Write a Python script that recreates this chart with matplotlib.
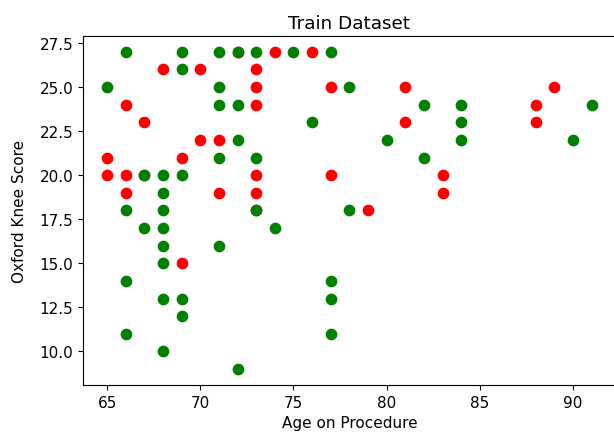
import numpy as np
from matplotlib import pyplot as plt

plt.rcParams.update({'font.size': 11, 'axes.titlesize': 13.2})

# age / score pairs
red_age = [65, 65, 66, 66, 66, 67, 67, 68, 69, 69, 70, 70, 71, 71, 72, 73, 73, 73, 73,
           73, 73, 74, 76, 77, 77, 79, 81, 81, 83, 83, 88, 88, 89]
red_score = [21, 20, 24, 20, 19, 23, 20, 26, 21, 15, 26, 22, 22, 19, 27, 26, 25, 24, 20,
             19, 18, 27, 27, 25, 20, 18, 25, 23, 20, 19, 24, 23, 25]

green_age = [65, 66, 66, 66, 66, 67, 67, 68, 68, 68, 68, 68, 68, 68, 68, 69, 69, 69, 69,
             69, 71, 71, 71, 71, 71, 72, 72, 72, 72, 73, 73, 73, 74, 75, 76, 77, 77, 77,
             77, 78, 78, 80, 82, 82, 84, 84, 84, 90, 91]
green_score = [25, 27, 18, 14, 11, 20, 17, 20, 19, 18, 17, 16, 15, 13, 10, 27, 26, 20, 13,
               12, 27, 25, 24, 21, 16, 27, 24, 22, 9, 27, 21, 18, 17, 27, 23, 27, 14, 13,
               11, 25, 18, 22, 24, 21, 24, 23, 22, 22, 24]

fig = plt.figure(figsize=(6.14, 4.35), dpi=100)
ax = fig.add_axes([0.135, 0.113, 0.868, 0.802])

ax.scatter(red_age, red_score, c='red', s=55)
ax.scatter(green_age, green_score, c='green', s=55)

ax.set_title('Train Dataset')
ax.set_xlabel('Age on Procedure')
ax.set_ylabel('Oxford Knee Score', labelpad=9)

fig.savefig('out.png', dpi=100)
